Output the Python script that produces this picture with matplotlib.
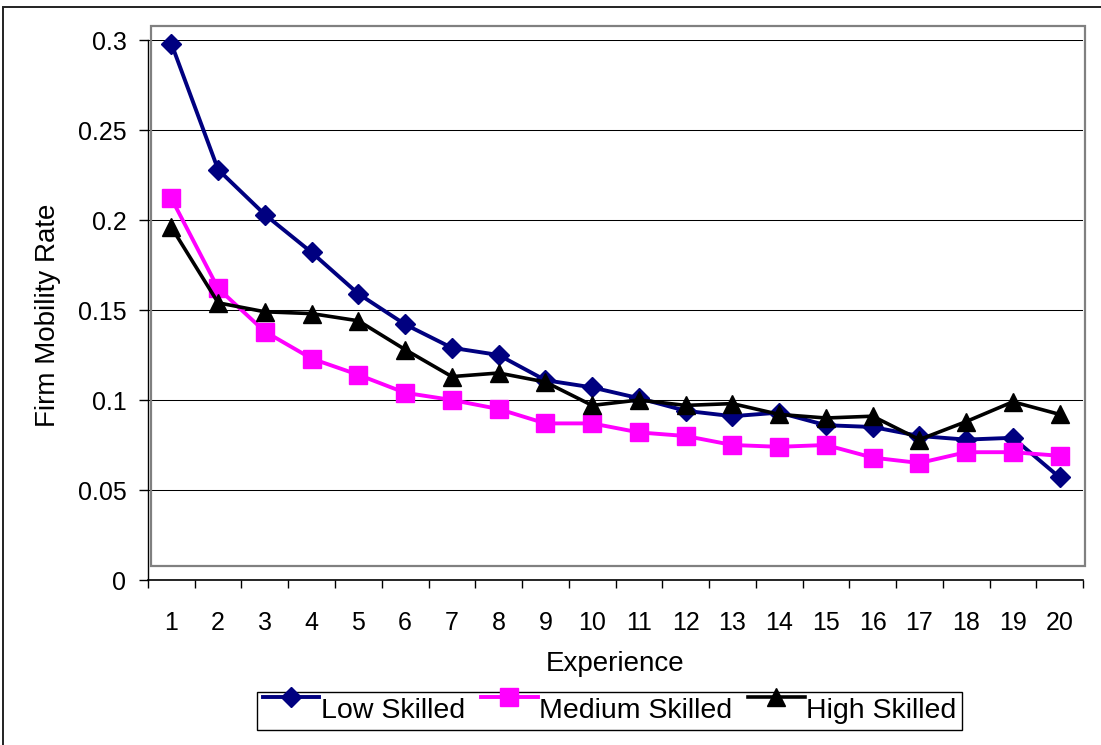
import matplotlib
matplotlib.use('Agg')
import matplotlib.pyplot as plt
import numpy as np
from matplotlib.patches import Rectangle
from matplotlib.legend_handler import HandlerLine2D

plt.rcParams['font.family'] = ['Liberation Sans', 'DejaVu Sans']

# experience years and firm mobility rates
experience = list(range(1, 21))
low_skilled = [0.298, 0.228, 0.203, 0.182, 0.159, 0.142, 0.129, 0.125, 0.111, 0.107,
               0.101, 0.094, 0.091, 0.093, 0.086, 0.085, 0.080, 0.078, 0.079, 0.057]
medium_skilled = [0.212, 0.162, 0.138, 0.123, 0.114, 0.104, 0.100, 0.095, 0.087, 0.087,
                  0.082, 0.080, 0.075, 0.074, 0.075, 0.068, 0.065, 0.071, 0.071, 0.069]
high_skilled = [0.196, 0.154, 0.149, 0.148, 0.144, 0.128, 0.113, 0.115, 0.110, 0.097,
                0.100, 0.097, 0.098, 0.092, 0.090, 0.091, 0.078, 0.088, 0.099, 0.092]
y_ticks = [0, 0.05, 0.1, 0.15, 0.2, 0.25, 0.3]
y_tick_labels = ['0', '0.05', '0.1', '0.15', '0.2', '0.25', '0.3']


class RaisedHandler(HandlerLine2D):
    # Excel draws the legend sample near the top of the box, above the text
    def create_artists(self, legend, orig_handle, xdescent, ydescent, width, height, fontsize, trans):
        return super().create_artists(legend, orig_handle, xdescent, ydescent - 16,
                                      width, height, fontsize, trans)


W, H = 1101, 745
fig = plt.figure(figsize=(W / 100, H / 100), dpi=100)
ax = fig.add_axes([148 / W, 1 - 580 / H, 935 / W, 540 / H])
ax.patch.set_facecolor('none')

l1, = ax.plot(experience, low_skilled, color='#000080', lw=2.8, marker='D', ms=10.5,
              mec='#000080', mfc='#000080', clip_on=False, zorder=3, label='Low Skilled')
l2, = ax.plot(experience, medium_skilled, color='#FF00FF', lw=2.8, marker='s', ms=12.5,
              mec='#FF00FF', mfc='#FF00FF', clip_on=False, zorder=3, label='Medium Skilled')
l3, = ax.plot(experience, high_skilled, color='black', lw=2.6, marker='^', ms=13.5,
              mec='black', mfc='black', clip_on=False, zorder=3, label='High Skilled')

ax.set_xlim(0.5, 20.5)
ax.set_ylim(0, 0.3)
ax.set_yticks(y_ticks)
ax.set_yticklabels(y_tick_labels)
ax.set_xticks(experience)
ax.set_xticks(np.arange(0.5, 21, 1), minor=True)
ax.tick_params(axis='x', which='major', length=0, pad=22, labelsize=18)
ax.tick_params(axis='x', which='minor', length=6, width=1, direction='out', color='black')
ax.tick_params(axis='y', length=6.5, width=1, pad=9, labelsize=18, direction='out')

ax.yaxis.grid(True, color='black', lw=0.75)
ax.set_axisbelow(True)
for s in ['top', 'right']:
    ax.spines[s].set_visible(False)
ax.spines['left'].set_color('black')
ax.spines['bottom'].set_color('black')
ax.spines['left'].set_linewidth(1)
ax.spines['bottom'].set_linewidth(1.2)

ax.set_xlabel('Experience', fontsize=20)
ax.xaxis.set_label_coords(0.5, -0.132)
ax.set_ylabel('Firm Mobility Rate', fontsize=20, va='center')
ax.yaxis.set_label_coords(-0.107, 0.49)

# grey plot area frame, offset from the axes as in Excel
fig.patches.append(Rectangle((151 / W, 1 - 566 / H), 934 / W, 540 / H,
                             transform=fig.transFigure, fill=False,
                             edgecolor='#808080', lw=1.6, zorder=1))
# outer chart frame (cropped on the right and bottom)
fig.patches.append(Rectangle((3 / W, -0.05), 1.1, 1.05 - 7 / H,
                             transform=fig.transFigure, fill=False,
                             edgecolor='#222222', lw=1.4, zorder=1))

leg = fig.legend(handles=[l1, l2, l3], loc='center', ncol=3,
                 bbox_to_anchor=(609.5 / W, 1 - 711 / H), fontsize=20.5,
                 frameon=True, fancybox=False, shadow=False, framealpha=1,
                 edgecolor='black', handlelength=2.0, handletextpad=0.05,
                 columnspacing=0.55, borderpad=0.2,
                 handler_map={l1: RaisedHandler(), l2: RaisedHandler(), l3: RaisedHandler()})
leg.get_frame().set_linewidth(1)

fig.savefig('out.png', dpi=100)
